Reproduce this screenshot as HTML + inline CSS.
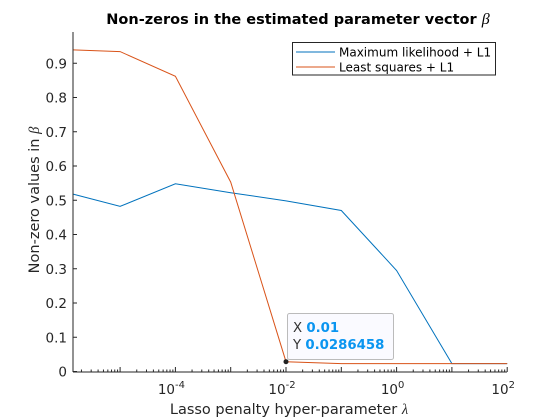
<!DOCTYPE html>
<html><head><meta charset="utf-8"><style>
body{margin:0;background:#fff;}
svg{display:block;font-family:"DejaVu Sans","Liberation Sans",sans-serif;}
</style></head><body>
<svg width="560" height="420" viewBox="0 0 560 420">
<rect width="560" height="420" fill="#fff"/>
<text x="298" y="24" text-anchor="middle" font-size="14.5" font-weight="bold" fill="#000">Non-zeros in the estimated parameter vector <tspan font-family="Liberation Serif,serif" font-style="italic" font-weight="normal" font-size="16">β</tspan></text>
<g id="ticks"></g>
<g id="series"></g>
<line x1="73" y1="32" x2="73" y2="372" stroke="#262626" stroke-width="1"/>
<line x1="73" y1="372" x2="507" y2="372" stroke="#262626" stroke-width="1"/>
<text x="289" y="414" text-anchor="middle" font-size="14.5" fill="#262626">Lasso penalty hyper-parameter <tspan font-family="Liberation Serif,serif" font-style="italic">λ</tspan></text>
<text transform="translate(39,200) rotate(-90)" text-anchor="middle" font-size="14.5" fill="#262626">Non-zero values in <tspan font-family="Liberation Serif,serif" font-style="italic">β</tspan></text>
<g>
<rect x="292.5" y="42.5" width="203" height="32.5" fill="#fff" stroke="#262626" stroke-width="1"/>
<line x1="296" y1="52" x2="335" y2="52" stroke="#0072BD"/>
<text x="339" y="56.5" font-size="12" fill="#000">Maximum likelihood + L1</text>
<line x1="296" y1="67" x2="335" y2="67" stroke="#D95319"/>
<text x="339" y="71.5" font-size="12" fill="#000">Least squares + L1</text>
</g>
<g>
<rect x="287.5" y="313.5" width="106" height="46" rx="2" fill="#fafaff" stroke="#bbb" stroke-width="1"/>
<text x="293" y="332" font-size="13.3" fill="#333">X <tspan fill="#0a95f0" font-weight="bold">0.01</tspan></text>
<text x="293" y="349" font-size="13.3" fill="#333">Y <tspan fill="#0a95f0" font-weight="bold">0.0286458</tspan></text>
</g>
<circle id="dtdot" r="2.5" fill="#222"/>
</svg>
<script>
const xExp = [-5.85, -5, -4, -3, -2, -1, 0, 1, 2];
const mlValues = [0.518, 0.482, 0.548, 0.522, 0.498, 0.470, 0.295, 0.023, 0.023];
const lsValues = [0.939, 0.934, 0.862, 0.553, 0.0286458, 0.023, 0.023, 0.023, 0.023];
const yTicks = [0, 0.1, 0.2, 0.3, 0.4, 0.5, 0.6, 0.7, 0.8, 0.9];
const yTickLabels = ["0","0.1","0.2","0.3","0.4","0.5","0.6","0.7","0.8","0.9"];
const xTickExps = [-4, -2, 0, 2];

const NS="http://www.w3.org/2000/svg";
const xs = e => 286 + (e + 2) * 55.3;
const ys = v => 371.5 - v * 342.5;
const tg = document.getElementById('ticks');
function mk(t, a, p){const el=document.createElementNS(NS,t);for(const k in a)el.setAttribute(k,a[k]);p.appendChild(el);return el;}
yTicks.forEach((v,i)=>{
  const y=ys(v);
  const l=mk('line',{x1:73,x2:77,y1:y,y2:y,stroke:'#262626'},tg);
  
  
  const t=mk('text',{x:67,y:y+5,'text-anchor':'end','font-size':'13.5',fill:'#262626'},tg);
  t.textContent=yTickLabels[i];
  
  
});
for(let d=-6; d<2; d++){
  for(let m=1;m<10;m++){
    const e=d+Math.log10(m);
    if(e< -5.85) continue;
    const x=xs(e);
    const l=mk('line',{x1:x,x2:x,y1:372,y2:m==1?367:369.5,stroke:'#262626'},tg);
    
    
  }
}
const l2=mk('line',{x1:xs(2),x2:xs(2),y1:372,y2:367,stroke:'#262626'},tg);


xTickExps.forEach(e=>{
  const t=mk('text',{x:xs(e)-4,y:394,'text-anchor':'middle','font-size':'13.5',fill:'#262626'},tg);
  t.innerHTML='10<tspan dy="-6" font-size="10">'+e+'</tspan>';
  
  
});
const sg=document.getElementById('series');
function line(vals,col,name){
  const pts=vals.map((v,i)=>xs(xExp[i]).toFixed(1)+','+ys(v).toFixed(1)).join(' ');
  const p=mk('polyline',{points:pts,fill:'none',stroke:col,'stroke-width':1},sg);
  
  
}
line(mlValues,'#0072BD','series-maximum-likelihood');
line(lsValues,'#D95319','series-least-squares');
const dot=document.getElementById('dtdot');
dot.setAttribute('cx',xs(xExp[4]));dot.setAttribute('cy',ys(lsValues[4]));
</script>
</body></html>
